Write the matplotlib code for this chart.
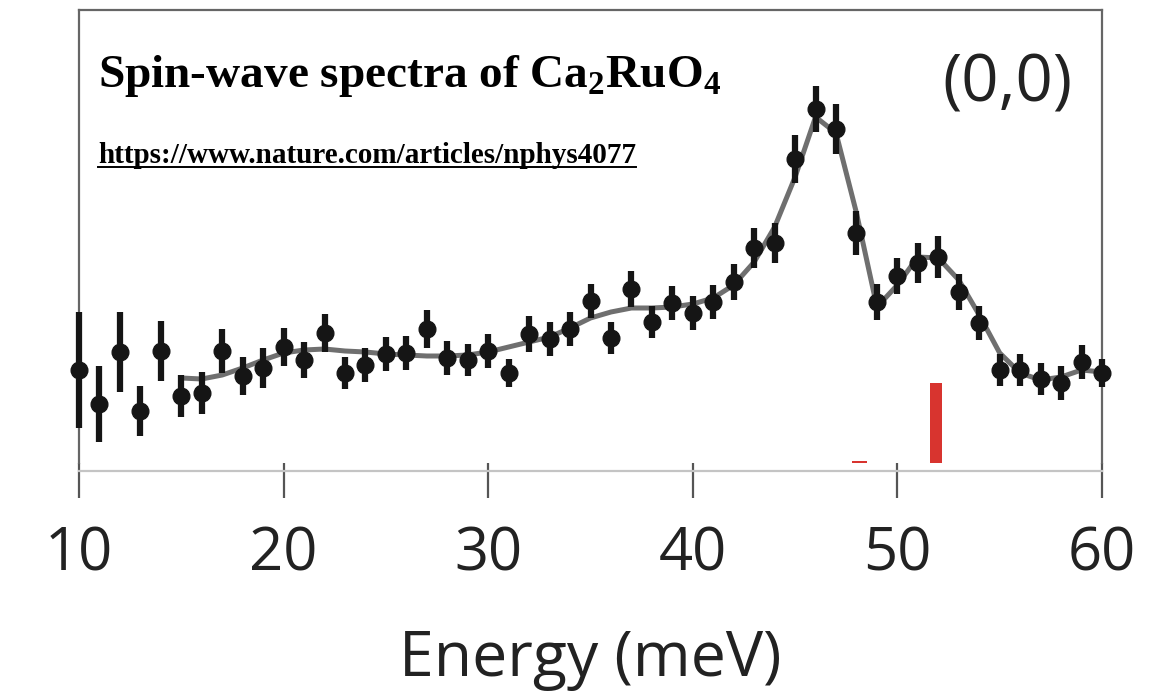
import matplotlib
matplotlib.use("Agg")
import matplotlib.pyplot as plt
from matplotlib.transforms import offset_copy

# measured points (energy in meV, intensity in arb. units)
energy = list(range(10, 61))
intensity = [9.3, 5.9, 11.1, 5.2, 11.2, 6.7, 7.0, 11.2, 8.7, 9.5,
             11.6, 10.3, 13.0, 9.0, 9.8, 10.9, 11.0, 13.4, 10.5, 10.3,
             11.2, 9.0, 12.9, 12.4, 13.4, 16.2, 12.5, 17.4, 14.1, 16.0,
             15.0, 16.1, 18.1, 21.5, 22.0, 30.4, 35.4, 33.4, 23.0, 16.1,
             18.7, 20.0, 20.6, 17.1, 14.0, 9.3, 9.3, 8.4, 8.0, 10.1,
             9.0]
errors = [5.8, 3.8, 4.0, 2.5, 3.0, 2.1, 2.1, 2.2, 1.9, 2.0,
          1.9, 1.8, 1.9, 1.6, 1.7, 1.7, 1.7, 1.9, 1.7, 1.6,
          1.7, 1.4, 1.8, 1.7, 1.7, 1.7, 1.6, 1.8, 1.6, 1.7,
          1.7, 1.7, 1.8, 2.0, 2.0, 2.4, 2.3, 2.5, 2.2, 1.8,
          1.8, 2.0, 2.1, 1.8, 1.7, 1.6, 1.6, 1.6, 1.7, 1.7,
          1.4]

# fitted curve
fit_energy = list(range(15, 61))
fit_intensity = [8.5, 8.4, 8.8, 9.5, 10.3, 11.0, 11.3, 11.4, 11.2, 11.1,
                 10.9, 10.8, 10.7, 10.7, 10.8, 11.1, 11.6, 12.1, 12.6, 13.5,
                 14.5, 15.1, 15.5, 15.5, 15.6, 15.9, 16.5, 17.8, 20.1, 23.6,
                 28.6, 34.6, 33.0, 25.0, 15.6, 17.8, 20.6, 20.5, 18.3, 14.8,
                 11.0, 9.0, 8.3, 8.6, 9.3, 9.1]

# calculated mode weights (red bars)
mode_energy = [48.15, 51.9]
mode_weight = [0.2, 8.0]
mode_width = [0.7, 0.6]

plt.rcParams["mathtext.fontset"] = "custom"
plt.rcParams["mathtext.rm"] = "Liberation Serif:bold"
plt.rcParams["mathtext.bf"] = "Liberation Serif:bold"

fig = plt.figure(figsize=(11.74, 6.95), dpi=100)
ax = fig.add_axes([79/1174, 1 - 463/695, (1102 - 79)/1174, (463 - 10)/695])

ax.bar(mode_energy, mode_weight, width=mode_width, color="#d8342f", zorder=1)
ax.plot(fit_energy, fit_intensity, color="#6f6f6f", lw=3.6, zorder=2,
        solid_joinstyle="round")
ax.errorbar(energy, intensity, yerr=errors, fmt="o", color="#151515",
            ms=12, elinewidth=4.5, capsize=0, zorder=3, clip_on=False)

ax.set_xlim(10, 60)
ax.set_ylim(0, 45.3)
ax.set_yticks([])
ax.set_xticks([10, 20, 30, 40, 50, 60])

for s in ["left", "right", "top"]:
    ax.spines[s].set_color("#666666")
    ax.spines[s].set_linewidth(1.6)
ax.spines["bottom"].set_visible(False)

# light baseline just under the plot area
base = offset_copy(ax.transAxes, fig=fig, y=-8, units="dots")
ax.plot([0, 1], [0, 0], transform=base, color="#c4c4c4", lw=1.6, clip_on=False)

ax.tick_params(axis="x", direction="out", length=25, width=1.6, color="#555555",
               pad=19, labelsize=43, labelcolor="#222222")
for lab in ax.get_xticklabels():
    lab.set_fontfamily("Open Sans")

ax.set_xlabel("Energy (meV)", fontsize=45, fontfamily="Open Sans",
              color="#222222", labelpad=32)

ax.text(0.971, 0.797, "(0,0)", transform=ax.transAxes, ha="right", va="baseline",
        fontsize=47, fontfamily="Open Sans", color="#222222")

fig.text(98/1174, 1 - 87/695, r"Spin-wave spectra of Ca$_\mathbf{2}$RuO$_\mathbf{4}$",
         fontsize=34, fontweight="bold", fontfamily="Liberation Serif",
         ha="left", va="baseline", color="black")
url = fig.text(98/1174, 1 - 163/695, "https://www.nature.com/articles/nphys4077",
               fontsize=21, fontweight="bold", fontfamily="Liberation Serif",
               ha="left", va="baseline", color="black")

fig.canvas.draw()
bb = url.get_window_extent()
fig.add_artist(plt.Line2D([bb.x0 / fig.bbox.width, bb.x1 / fig.bbox.width],
                          [(695 - 167) / 695] * 2, color="black", lw=1.4))

fig.savefig("out.png", dpi=100)
